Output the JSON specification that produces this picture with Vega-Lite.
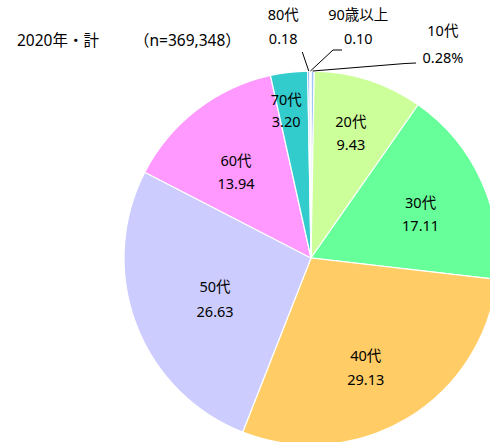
{
  "$schema": "https://vega.github.io/schema/vega-lite/v6.json",
  "width": 490,
  "height": 442,
  "padding": 0,
  "autosize": "none",
  "background": "white",
  "config": {"view": {"stroke": null}, "font": "Noto Sans, Noto Sans CJK JP"},
  "title": {
    "text": "2020年・計　　 （n=369,348）",
    "anchor": "start",
    "orient": "top",
    "offset": -49,
    "dx": 17,
    "fontSize": 15.5,
    "fontWeight": "normal",
    "font": "Noto Sans, Noto Sans CJK JP",
    "color": "#000000"
  },
  "data": {
    "values": [
      {"age": "10代", "value": 0.28, "order": 1},
      {"age": "20代", "value": 9.43, "order": 2},
      {"age": "30代", "value": 17.11, "order": 3},
      {"age": "40代", "value": 29.13, "order": 4},
      {"age": "50代", "value": 26.63, "order": 5},
      {"age": "60代", "value": 13.94, "order": 6},
      {"age": "70代", "value": 3.20, "order": 7},
      {"age": "80代", "value": 0.18, "order": 8},
      {"age": "90歳以上", "value": 0.10, "order": 9}
    ]
  },
  "transform": [
    {"calculate": "datum.age + '\\n' + format(datum.value, '.2f') + (datum.age === '10代' ? '%' : '')", "as": "lab"}
  ],
  "layer": [
    {
      "encoding": {
        "theta": {"field": "value", "type": "quantitative", "stack": true, "scale": {"domain": [0, 100]}},
        "order": {"field": "order", "type": "quantitative"}
      },
      "layer": [
        {
          "mark": {"type": "arc", "x": 311, "y": 258, "outerRadius": 187, "stroke": "white", "strokeWidth": 1.2},
          "encoding": {
            "color": {
              "field": "age", "type": "nominal", "legend": null,
              "scale": {
                "domain": ["10代", "20代", "30代", "40代", "50代", "60代", "70代", "80代", "90歳以上"],
                "range": ["#9fc5f8", "#ccff99", "#66ff99", "#ffcc66", "#ccccff", "#ff99ff", "#33cccc", "#6d9eeb", "#9fc5f8"]
              }
            }
          }
        },
        {
          "mark": {"type": "text", "x": 311, "y": 258, "radius": 134, "dx": -1.5, "dy": -7.5, "fontSize": 14.5, "lineHeight": 23.3, "lineBreak": "\n", "baseline": "middle", "align": "center", "color": "#000000"},
          "encoding": {"text": {"condition": {"test": "datum.age === '20代'", "field": "lab"}, "value": ""}}
        },
        {
          "mark": {"type": "text", "x": 311, "y": 258, "radius": 118, "dx": 2, "dy": -5.5, "fontSize": 14.5, "lineHeight": 23.3, "lineBreak": "\n", "baseline": "middle", "align": "center", "color": "#000000"},
          "encoding": {"text": {"condition": {"test": "datum.age === '30代'", "field": "lab"}, "value": ""}}
        },
        {
          "mark": {"type": "text", "x": 311, "y": 258, "radius": 118, "dx": -6, "dy": -2.5, "fontSize": 14.5, "lineHeight": 24.5, "lineBreak": "\n", "baseline": "middle", "align": "center", "color": "#000000"},
          "encoding": {"text": {"condition": {"test": "datum.age === '40代'", "field": "lab"}, "value": ""}}
        },
        {
          "mark": {"type": "text", "x": 311, "y": 258, "radius": 118, "dx": 14.5, "dy": -11.5, "fontSize": 14.5, "lineHeight": 25, "lineBreak": "\n", "baseline": "middle", "align": "center", "color": "#000000"},
          "encoding": {"text": {"condition": {"test": "datum.age === '50代'", "field": "lab"}, "value": ""}}
        },
        {
          "mark": {"type": "text", "x": 311, "y": 258, "radius": 118, "dx": -3, "dy": -2.9, "fontSize": 14.5, "lineHeight": 23.3, "lineBreak": "\n", "baseline": "middle", "align": "center", "color": "#000000"},
          "encoding": {"text": {"condition": {"test": "datum.age === '60代'", "field": "lab"}, "value": ""}}
        },
        {
          "mark": {"type": "text", "x": 311, "y": 258, "radius": 151, "dx": -7, "dy": -7.5, "fontSize": 14.5, "lineHeight": 22.6, "lineBreak": "\n", "baseline": "middle", "align": "center", "color": "#000000"},
          "encoding": {"text": {"condition": {"test": "datum.age === '70代'", "field": "lab"}, "value": ""}}
        },
        {
          "mark": {"type": "text", "x": 311, "y": 258, "radius": 231, "dx": -25, "dy": -11, "fontSize": 14.5, "lineHeight": 24, "lineBreak": "\n", "baseline": "middle", "align": "center", "color": "#000000"},
          "encoding": {"text": {"condition": {"test": "datum.age === '80代'", "field": "lab"}, "value": ""}}
        },
        {
          "mark": {"type": "text", "x": 311, "y": 258, "radius": 231, "dx": 48, "dy": -11, "fontSize": 14.5, "lineHeight": 24, "lineBreak": "\n", "baseline": "middle", "align": "center", "color": "#000000"},
          "encoding": {"text": {"condition": {"test": "datum.age === '90歳以上'", "field": "lab"}, "value": ""}}
        },
        {
          "mark": {"type": "text", "x": 311, "y": 258, "radius": 213, "dx": 130, "dy": -13, "fontSize": 14.5, "lineHeight": 27, "lineBreak": "\n", "baseline": "middle", "align": "center", "color": "#000000"},
          "encoding": {"text": {"condition": {"test": "datum.age === '10代'", "field": "lab"}, "value": ""}}
        }
      ]
    },
    {
      "transform": [
        {"window": [{"op": "sum", "field": "value", "as": "cum"}], "sort": [{"field": "order", "order": "ascending"}], "frame": [null, 0]},
        {"calculate": "(datum.cum - datum.value / 2) / 100 * 2 * PI", "as": "ang"},
        {"filter": "indexof(['10代','80代','90歳以上'], datum.age) >= 0"},
        {"calculate": "311 + 187 * sin(datum.ang)", "as": "x0"},
        {"calculate": "258 - 187 * cos(datum.ang)", "as": "y0"},
        {"calculate": "datum.x0 + (datum.age === '80代' ? -6.5 : datum.age === '90歳以上' ? 22.6 : 92.4)", "as": "x1"},
        {"calculate": "datum.y0 + (datum.age === '80代' ? -19 : datum.age === '90歳以上' ? -21 : -7.5)", "as": "y1"},
        {"calculate": "datum.x1 + (datum.age === '80代' ? 0 : datum.age === '90歳以上' ? 9 : 11)", "as": "x2"},
        {"calculate": "datum.y1 + (datum.age === '10代' ? -0.5 : 0)", "as": "y2"}
      ],
      "layer": [
        {
          "mark": {"type": "rule", "color": "#000000", "strokeWidth": 1},
          "encoding": {
            "x": {"field": "x0", "type": "quantitative", "scale": null},
            "y": {"field": "y0", "type": "quantitative", "scale": null},
            "x2": {"field": "x1"},
            "y2": {"field": "y1"}
          }
        },
        {
          "mark": {"type": "rule", "color": "#000000", "strokeWidth": 1},
          "encoding": {
            "x": {"field": "x1", "type": "quantitative", "scale": null},
            "y": {"field": "y1", "type": "quantitative", "scale": null},
            "x2": {"field": "x2"},
            "y2": {"field": "y2"}
          }
        }
      ]
    }
  ]
}
